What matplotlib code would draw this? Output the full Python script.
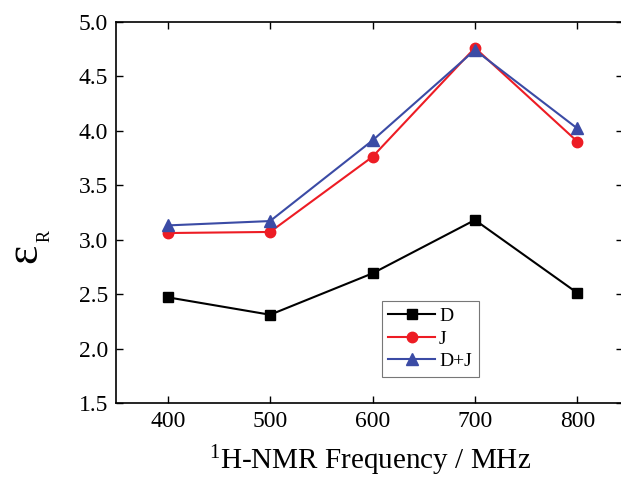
import matplotlib
matplotlib.use('Agg')
import matplotlib.pyplot as plt

plt.rcParams['font.family'] = ['Liberation Serif', 'DejaVu Serif']
plt.rcParams['mathtext.fontset'] = 'custom'
plt.rcParams['mathtext.rm'] = 'Liberation Serif'
plt.rcParams['mathtext.it'] = 'Liberation Serif:italic'

# data
freq = [400, 500, 600, 700, 800]
d_vals = [2.47, 2.31, 2.69, 3.18, 2.51]
j_vals = [3.06, 3.07, 3.76, 4.76, 3.90]
dj_vals = [3.13, 3.17, 3.91, 4.74, 4.02]

fig = plt.figure(figsize=(6.21, 4.79), dpi=100)
ax = fig.add_axes([0.1876, 0.1587, 0.8163, 0.796])

ax.plot(freq, d_vals, color='black', marker='s', markersize=7, linewidth=1.5, label='D')
ax.plot(freq, j_vals, color='#ED1C24', marker='o', markersize=7.5, linewidth=1.5, label='J')
ax.plot(freq, dj_vals, color='#3B4BA5', marker='^', markersize=8, linewidth=1.5, label='D+J')

ax.set_xlim(350, 845)
ax.set_ylim(1.5, 5.0)
ax.set_xticks(freq)
ax.set_yticks([1.5, 2.0, 2.5, 3.0, 3.5, 4.0, 4.5, 5.0])
ax.yaxis.set_major_formatter(matplotlib.ticker.FormatStrFormatter('%.1f'))
ax.tick_params(direction='in', length=5, width=1, top=True, right=True, labelsize=17, pad=6)
for s in ax.spines.values():
    s.set_linewidth(1.2)

ax.set_xlabel(r'$\mathregular{^1}$H-NMR Frequency / MHz', fontsize=21, labelpad=8)

# y label: large epsilon with a small subscript R, rotated
fig.text(0.040, 0.470, 'ε', fontsize=33, rotation=90, ha='center', va='center')
fig.text(0.0717, 0.507, 'R', fontsize=13, rotation=90, ha='center', va='center')

leg = ax.legend(loc='lower left', bbox_to_anchor=(0.523, 0.068), fontsize=14,
                frameon=True, fancybox=False, edgecolor='#555555', handlelength=2.4,
                borderpad=0.35, labelspacing=0.25, handletextpad=0.2, borderaxespad=0)
leg.get_frame().set_linewidth(0.8)

fig.savefig('out.png', dpi=100)
